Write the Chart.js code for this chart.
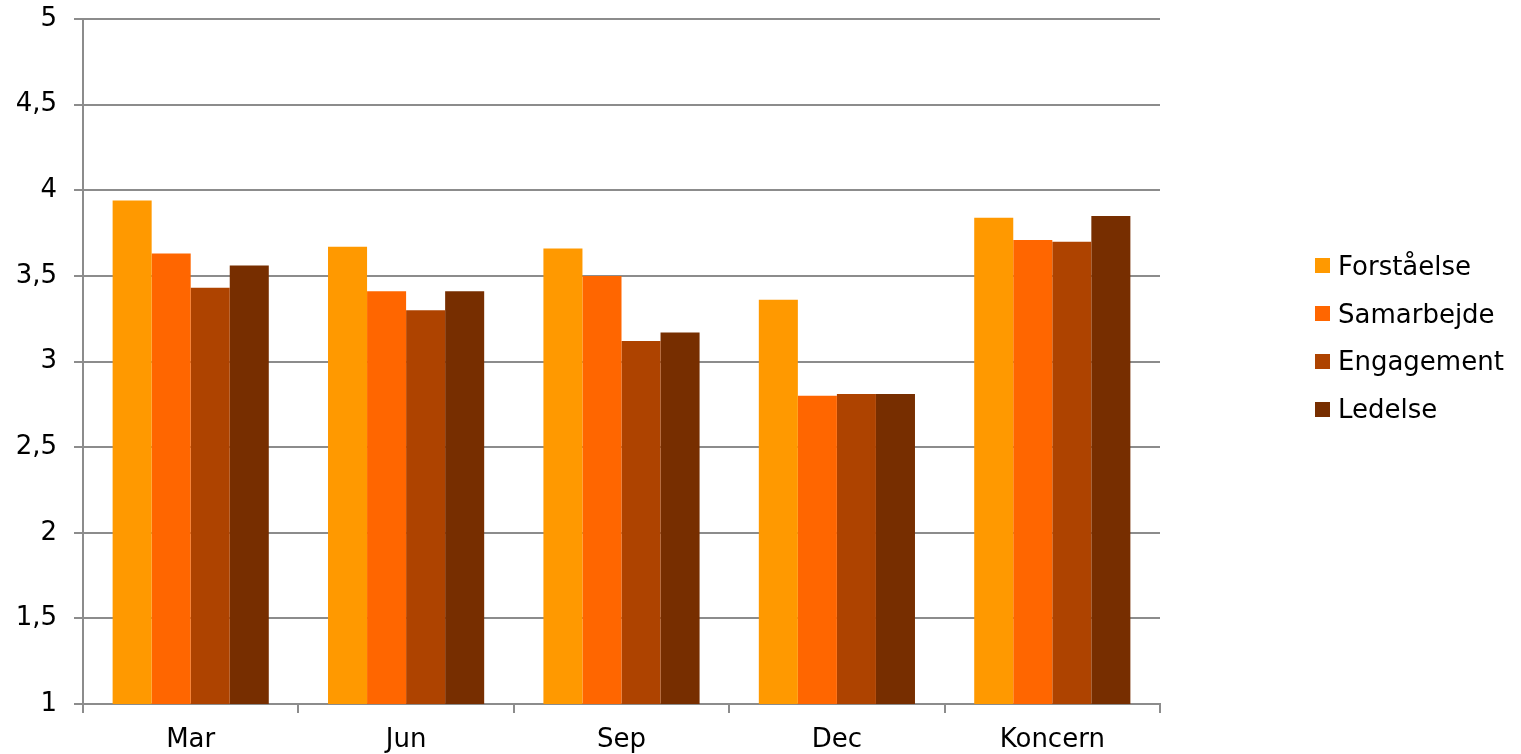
<!DOCTYPE html>
<html lang="da">
<head>
    <meta charset="UTF-8">
    <title>Måling pr. kvartal</title>
    <script src="https://cdn.jsdelivr.net/npm/chart.js"></script>
    <style>
        body {
            margin: 0;
            padding: 0;
            background: #ffffff;
            font-family: 'DejaVu Sans', Verdana, sans-serif;
        }

        .wrap {
            position: relative;
            width: 1521px;
            height: 754px;
        }

        .legend {
            position: absolute;
            left: 1315px;
            top: 242px;
            margin: 0;
            padding: 0;
            list-style: none;
            font-size: 26px;
            color: #000000;
        }

        .legend li {
            display: flex;
            align-items: center;
            height: 47.8px;
        }

        .legend span {
            display: inline-block;
            width: 15px;
            height: 15px;
            margin-right: 8px;
        }
    </style>
</head>
<body>
    <div class="wrap">
        <canvas id="scoreChart" width="1521" height="754"></canvas>
        <ul class="legend" id="legend"></ul>
    </div>

    <script>
        // Categories and series
        const categories = ["Mar", "Jun", "Sep", "Dec", "Koncern"];
        const seriesNames = ["Forståelse", "Samarbejde", "Engagement", "Ledelse"];
        const seriesColors = ["#ff9900", "#ff6600", "#ae4300", "#772e00"];

        const forstaaelse = [3.94, 3.67, 3.66, 3.36, 3.84];
        const samarbejde = [3.63, 3.41, 3.50, 2.80, 3.71];
        const engagement = [3.43, 3.30, 3.12, 2.81, 3.70];
        const ledelse = [3.56, 3.41, 3.17, 2.81, 3.85];

        // Y axis tick labels (Danish decimal comma)
        const yTickLabels = ["1", "1,5", "2", "2,5", "3", "3,5", "4", "4,5", "5"];

        const seriesValues = [forstaaelse, samarbejde, engagement, ledelse];

        const axisGray = '#8c8c8c';
        const fontSpec = { family: "'DejaVu Sans', Verdana, sans-serif", size: 26 };

        // Legend built as plain HTML next to the canvas
        const legendEl = document.getElementById('legend');
        seriesNames.forEach((name, i) => {
            const li = document.createElement('li');
            li.innerHTML = `<span style="background:${seriesColors[i]}"></span>${name}`;
            legendEl.appendChild(li);
        });

        const ctx = document.getElementById('scoreChart').getContext('2d');
        const chart = new Chart(ctx, {
            type: 'bar',
            data: {
                labels: categories,
                datasets: seriesNames.map((name, i) => ({
                    label: name,
                    data: seriesValues[i],
                    backgroundColor: seriesColors[i],
                    borderWidth: 0,
                    categoryPercentage: 0.725,
                    barPercentage: 1.0
                }))
            },
            options: {
                responsive: false,
                animation: false,
                layout: {
                    padding: { top: 19, right: 361, bottom: 0, left: 0 }
                },
                plugins: {
                    legend: { display: false },
                    tooltip: { enabled: false }
                },
                scales: {
                    x: {
                        grid: {
                            offset: true,
                            drawOnChartArea: false,
                            drawTicks: true,
                            tickLength: 9,
                            color: axisGray,
                            lineWidth: 2
                        },
                        border: { display: true, color: axisGray, width: 2 },
                        ticks: {
                            color: '#000000',
                            font: fontSpec,
                            padding: 12,
                            maxRotation: 0
                        },
                        afterFit(scale) {
                            scale.height = 50;
                            scale.paddingLeft = 0;
                            scale.paddingRight = 0;
                        }
                    },
                    y: {
                        min: 1,
                        max: 5,
                        grid: {
                            color: axisGray,
                            lineWidth: 2,
                            drawTicks: true,
                            tickLength: 9
                        },
                        border: { display: true, color: axisGray, width: 2 },
                        ticks: {
                            stepSize: 0.5,
                            color: '#000000',
                            font: fontSpec,
                            padding: 17,
                            callback: (value, index) => yTickLabels[index]
                        },
                        afterFit(scale) {
                            scale.width = 83;
                            scale.paddingTop = 0;
                            scale.paddingBottom = 0;
                        }
                    }
                }
            }
        });
    </script>
</body>
</html>
